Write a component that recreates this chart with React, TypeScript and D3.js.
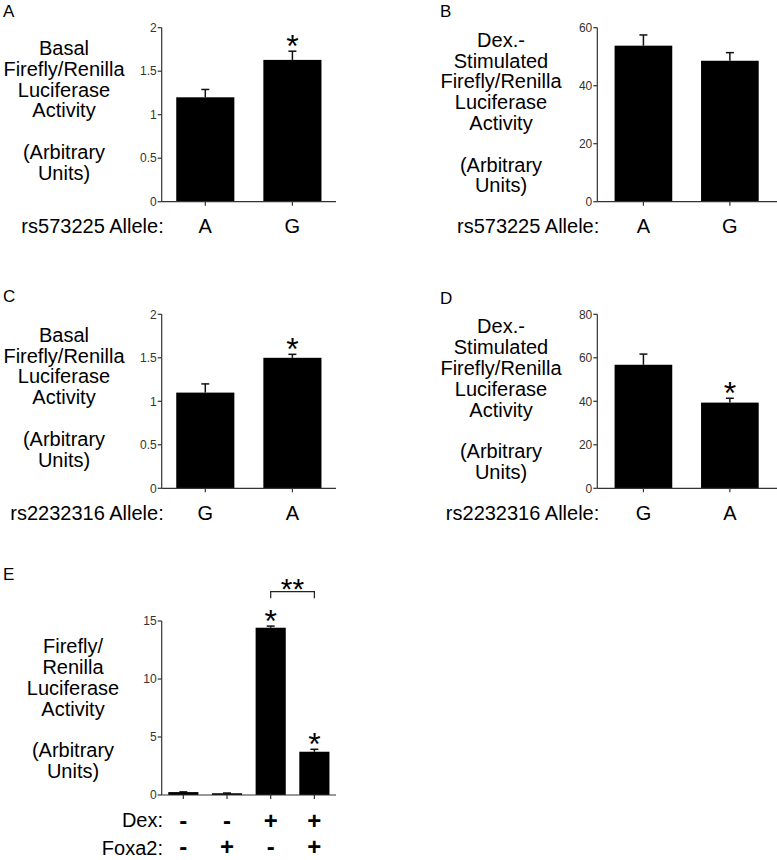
import React from "react";
import * as d3 from "d3";

// ---------- data ----------
const allelesRs573225 = ["A", "G"];
const basalRs573225 = [1.2, 1.63];
const basalRs573225Err = [0.09, 0.1];
const basalRs573225Sig = [false, true];
const dexRs573225 = [53.8, 48.6];
const dexRs573225Err = [3.7, 2.8];
const dexRs573225Sig = [false, false];

const allelesRs2232316 = ["G", "A"];
const basalRs2232316 = [1.1, 1.5];
const basalRs2232316Err = [0.1, 0.04];
const basalRs2232316Sig = [false, true];
const dexRs2232316 = [56.8, 39.4];
const dexRs2232316Err = [4.9, 2.0];
const dexRs2232316Sig = [false, true];

const dexTreatment = ["-", "-", "+", "+"];
const foxa2Treatment = ["-", "+", "-", "+"];
const foxaValues = [0.25, 0.15, 14.42, 3.73];
const foxaErr = [0.02, 0.02, 0.14, 0.21];
const foxaSig = [false, false, true, true];

const basalTicks = [0, 0.5, 1, 1.5, 2];
const dexTicksB = [0, 20, 40, 60];
const dexTicksD = [0, 20, 40, 60, 80];
const foxaTicks = [0, 5, 10, 15];

const basalLabel = ["Basal", "Firefly/Renilla", "Luciferase", "Activity", "", "(Arbitrary", "Units)"];
const dexLabel = ["Dex.-", "Stimulated", "Firefly/Renilla", "Luciferase", "Activity", "", "(Arbitrary", "Units)"];
const foxaLabel = ["Firefly/", "Renilla", "Luciferase", "Activity", "", "(Arbitrary", "Units)"];

const FONT = "'Liberation Sans', Arial, Helvetica, sans-serif";
const AXIS = "#333";
const STAR_FS = 32;

type PanelProps = {
  letter: string;
  letterX: number;
  letterY: number;
  axisX: number;
  axisRight: number;
  bandRange: [number, number];
  padInner: number;
  padOuter: number;
  yBottom: number;
  yTop: number;
  ticks: number[];
  cats: string[];
  values: number[];
  errs: number[];
  sig: boolean[];
  ylabel: string[];
  ylabelX: number;
  ylabelY0: number;
  catTitle?: string;
};

function Panel(p: PanelProps) {
  const x = d3.scaleBand<string>().domain(p.cats.map((c, i) => String(i))).range(p.bandRange).paddingInner(p.padInner).paddingOuter(p.padOuter);
  const y = d3.scaleLinear().domain([0, p.ticks[p.ticks.length - 1]]).range([p.yBottom, p.yTop]);
  const bw = x.bandwidth();
  const lh = 20.8;
  return (
    <g>
      <text x={p.letterX} y={p.letterY} fontSize={17} fontFamily={FONT}>{p.letter}</text>
      {p.ylabel.map((l, i) => (
        <text key={i} x={p.ylabelX} y={p.ylabelY0 + i * lh} fontSize={20} textAnchor="middle" fontFamily={FONT}>{l}</text>
      ))}
      {p.values.map((v, i) => {
        const cx = (x(String(i)) as number) + bw / 2;
        const top = y(v);
        const et = y(v + p.errs[i]);
        return (
          <g key={i}>
            <line x1={cx} x2={cx} y1={top} y2={et} stroke="#111" strokeWidth={1.5} />
            <line x1={cx - 4} x2={cx + 4} y1={et} y2={et} stroke="#111" strokeWidth={1.5} />
            <rect x={x(String(i))} y={top} width={bw} height={y(0) - top} fill="#000" />
            {p.sig[i] && (
              <text x={cx} y={et + 6} fontSize={STAR_FS} textAnchor="middle" fontFamily={FONT}>*</text>
            )}
          </g>
        );
      })}
      <line x1={p.axisX} x2={p.axisX} y1={y(0)} y2={y(p.ticks[p.ticks.length - 1])} stroke={AXIS} strokeWidth={1.2} />
      {p.ticks.map((t) => (
        <g key={t}>
          <line x1={p.axisX - 4} x2={p.axisX} y1={y(t)} y2={y(t)} stroke={AXIS} strokeWidth={1.2} />
          <text x={p.axisX - 5} y={y(t)} dy="0.35em" fontSize={12} textAnchor="end" fill="#333" fontFamily={FONT}>{String(t)}</text>
        </g>
      ))}
      <line x1={p.axisX} x2={p.axisRight} y1={y(0)} y2={y(0)} stroke={AXIS} strokeWidth={1.2} />
      {p.cats.map((c, i) => {
        const cx = (x(String(i)) as number) + bw / 2;
        return (
          <g key={i}>
            <line x1={cx} x2={cx} y1={y(0)} y2={y(0) + 4} stroke={AXIS} strokeWidth={1.2} />
            {p.catTitle && (
              <text x={cx} y={y(0) + 31.5} fontSize={20} textAnchor="middle" fontFamily={FONT}>{c}</text>
            )}
          </g>
        );
      })}
      {p.catTitle && (
        <text x={p.axisX + 2} y={y(0) + 31.5} fontSize={20} textAnchor="end" fontFamily={FONT}>{p.catTitle}</text>
      )}
    </g>
  );
}

export default function App() {
  const eBand = d3.scaleBand<string>().domain(foxaValues.map((_, i) => String(i))).range([161.7, 336]).paddingInner(0.31).paddingOuter(0.15);
  const ec = (i: number) => (eBand(String(i)) as number) + eBand.bandwidth() / 2;
  const bracketY = 591.7;
  return (
    <svg width={777} height={860} style={{ position: "absolute", left: 0, top: 0, background: "#fff" }}>
      <rect width={777} height={860} fill="#fff" />
      <Panel letter="A" letterX={3} letterY={17} axisX={161.7} axisRight={336} bandRange={[161.7, 336]} padInner={0.333} padOuter={0.167}
        yBottom={201.7} yTop={27.7} ticks={basalTicks} cats={allelesRs573225} values={basalRs573225} errs={basalRs573225Err} sig={basalRs573225Sig}
        ylabel={basalLabel} ylabelX={64} ylabelY0={55} catTitle="rs573225 Allele:" />
      <Panel letter="B" letterX={440} letterY={17} axisX={597.3} axisRight={777} bandRange={[597.3, 776]} padInner={0.333} padOuter={0.2}
        yBottom={201.7} yTop={27.7} ticks={dexTicksB} cats={allelesRs573225} values={dexRs573225} errs={dexRs573225Err} sig={dexRs573225Sig}
        ylabel={dexLabel} ylabelX={501} ylabelY0={46.7} catTitle="rs573225 Allele:" />
      <Panel letter="C" letterX={3} letterY={302} axisX={161.7} axisRight={336} bandRange={[161.7, 336]} padInner={0.333} padOuter={0.167}
        yBottom={488.3} yTop={314.3} ticks={basalTicks} cats={allelesRs2232316} values={basalRs2232316} errs={basalRs2232316Err} sig={basalRs2232316Sig}
        ylabel={basalLabel} ylabelX={64} ylabelY0={341.7} catTitle="rs2232316 Allele:" />
      <Panel letter="D" letterX={440} letterY={304} axisX={597.3} axisRight={777} bandRange={[597.3, 776]} padInner={0.333} padOuter={0.2}
        yBottom={488.3} yTop={314.3} ticks={dexTicksD} cats={allelesRs2232316} values={dexRs2232316} errs={dexRs2232316Err} sig={dexRs2232316Sig}
        ylabel={dexLabel} ylabelX={501} ylabelY0={333.3} catTitle="rs2232316 Allele:" />
      <Panel letter="E" letterX={3} letterY={580} axisX={161.7} axisRight={336} bandRange={[161.7, 336]} padInner={0.31} padOuter={0.15}
        yBottom={795} yTop={621} ticks={foxaTicks} cats={dexTreatment} values={foxaValues} errs={foxaErr} sig={foxaSig}
        ylabel={foxaLabel} ylabelX={73} ylabelY0={653.3} />
      <path d={`M${ec(2)},${bracketY + 6.6}V${bracketY}H${ec(3)}V${bracketY + 6.6}`} fill="none" stroke="#222" strokeWidth={1.2} />
      <text x={(ec(2) + ec(3)) / 2} y={bracketY + 7} fontSize={30} textAnchor="middle" fontFamily={FONT}>**</text>
      <text x={163} y={826.7} fontSize={20} textAnchor="end" fontFamily={FONT}>Dex:</text>
      <text x={163} y={855} fontSize={20} textAnchor="end" fontFamily={FONT}>Foxa2:</text>
      {dexTreatment.map((s, i) => (
        <text key={"d" + i} x={ec(i)} y={829} fontSize={24} fontWeight="bold" textAnchor="middle" fontFamily={FONT}>{s}</text>
      ))}
      {foxa2Treatment.map((s, i) => (
        <text key={"f" + i} x={ec(i)} y={855} fontSize={24} fontWeight="bold" textAnchor="middle" fontFamily={FONT}>{s}</text>
      ))}
    </svg>
  );
}
